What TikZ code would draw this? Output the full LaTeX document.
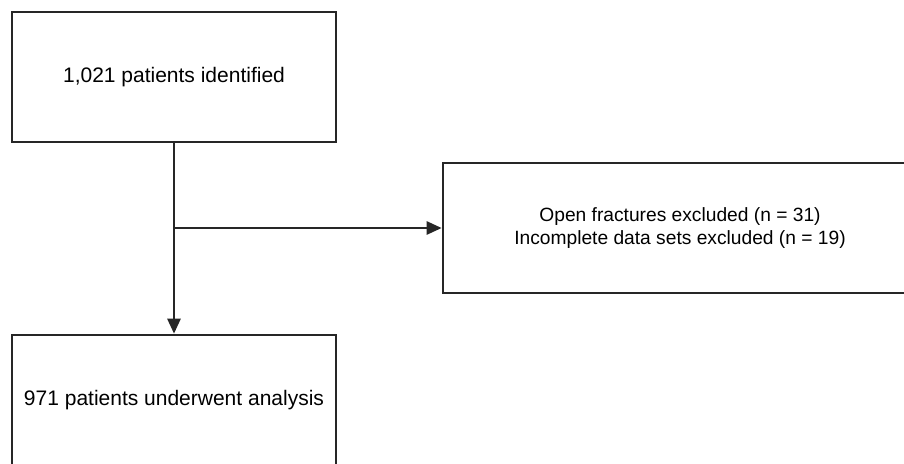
\documentclass[tikz,border=0pt]{standalone}
\usepackage{fontspec}
\setmainfont{Liberation Sans}
\usetikzlibrary{arrows.meta,positioning}
\tikzset{
  flowbox/.style={draw=black!85, line width=2.6pt, minimum width=324pt, minimum height=130pt,
    inner sep=0pt, align=center, font=\fontsize{21}{23}\selectfont},
  flowline/.style={line width=2.6pt, draw=black!85, -{Triangle[length=15pt,width=13pt]}}
}
\begin{document}
\begin{tikzpicture}[x=1pt,y=-1pt]
\useasboundingbox (0,0) rectangle (904,463);
\clip (0,0) rectangle (904,463);
% boxes
\node [flowbox] (ident) at (174,77) {1,021 patients identified};
\node [flowbox, minimum width=474pt, font=\fontsize{19.2}{23}\selectfont] (excl) at (680,228)
  {Open fractures excluded (n = 31)\\Incomplete data sets excluded (n = 19)};
\node [flowbox] (anal) at (174,400) {971 patients underwent analysis};
% connectors
\coordinate (split) at (ident.south |- excl.west);
\draw [flowline] (ident.south) -- (anal.north);
\draw [flowline] (split) -- (excl.west);
\end{tikzpicture}
\end{document}
